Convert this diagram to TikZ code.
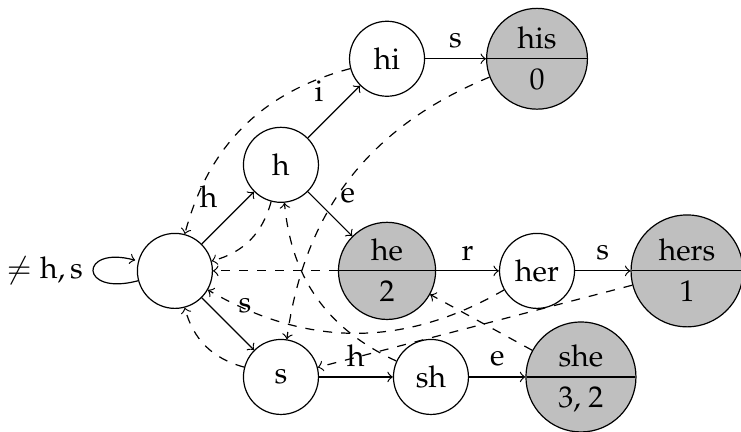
\documentclass[tikz,border=0pt]{standalone}
\usepackage[T1]{fontenc}
\usepackage{mathpazo}
\usetikzlibrary{automata,positioning,shapes.multipart}

\begin{document}
\begin{tikzpicture}[->,node distance=50pt,on grid,auto]
    \tikzset{
        every state/.style={draw,thin,minimum size=25pt,inner sep=0pt},
        outstate/.style={state,circle split,fill=lightgray,inner sep=3.1pt},	%accepting
        failedge/.style={dashed}	%failure links
    };
    \useasboundingbox (-58.3pt,-53.7pt) rectangle (188.7pt,90.3pt);
    \node[state] (root) at (0,0) {};
    \node[state] (h) [above right=of root] {h};
    \node[state] (hi) [above right=of h] {hi};
    \node[outstate] (his) [right=of hi] {his \nodepart{lower} 0};
    \node[outstate] (he) [below right=of h] {he \nodepart{lower} 2};
    \node[state] (her) [right=of he] {her};
    \node[outstate] (hers) [right=of her] {hers \nodepart{lower} 1};
    \node[state] (s) [below right=of root] {s};
    \node[state] (sh) [right=of s] {sh};
    \node[outstate] (she) [right=of sh] {she \nodepart{lower} 3, 2};
    % goto
    \path (root) edge[loop left] node[left] {$\neq \mathrm{h,s}$} ()
        (root) edge node {h} (h)
        (h) edge node {i} (hi)
        (hi) edge node {s} (his)
        (h) edge node {e} (he)
        (he) edge node {r} (her)
        (her) edge node {s} (hers)
        (root) edge node {s} (s)
        (s) edge node {h} (sh)
        (sh) edge node {e} (she);
    % fail
    \path[failedge] (h) edge[bend left] (root)
        (hi) edge[bend right] (root)
        (his) edge[bend right] (s)
        (he) edge (root)
        (her) edge[bend left] (root)
        (hers) edge (s)
        (s) edge[bend left] (root)
        (sh) edge[bend left] (h)
        (she) edge (he);
\end{tikzpicture}
\end{document}
